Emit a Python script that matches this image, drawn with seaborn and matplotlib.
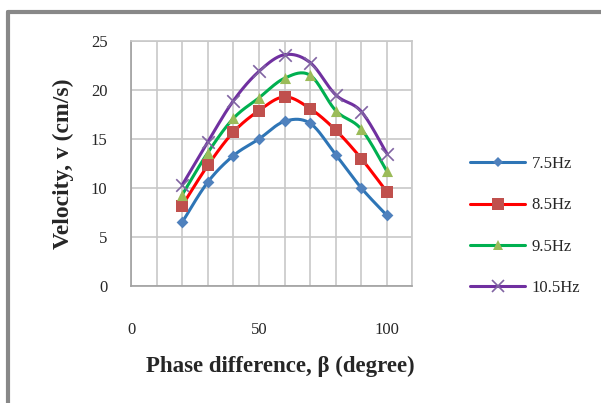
import numpy as np
import pandas as pd
import matplotlib
matplotlib.use("Agg")
import matplotlib.pyplot as plt
import seaborn as sns
from matplotlib.lines import Line2D

phase = [20, 30, 40, 50, 60, 70, 80, 90, 100]
v_75 = [6.5, 10.6, 13.3, 15.0, 16.8, 16.6, 13.4, 10.0, 7.2]
v_85 = [8.2, 12.3, 15.7, 17.9, 19.3, 18.1, 15.9, 13.0, 9.6]
v_95 = [9.3, 13.6, 17.1, 19.2, 21.2, 21.5, 17.9, 16.0, 11.7]
v_105 = [10.3, 14.7, 18.9, 21.9, 23.6, 22.8, 19.5, 17.8, 13.5]
series_names = ["7.5Hz", "8.5Hz", "9.5Hz", "10.5Hz"]
x_ticks = [0, 50, 100]
y_ticks = [0, 5, 10, 15, 20, 25]

line_colors = ["#2e75b6", "#ff0000", "#00b050", "#7030a0"]
marker_colors = ["#4f81bd", "#c0504d", "#9bbb59", "#8064a2"]
markers = ["D", "s", "^", "x"]
msizes = [6, 9, 8, 9]

sns.set_style("white")
plt.rcParams['font.family'] = ['Liberation Serif', 'DejaVu Serif']

df = pd.DataFrame({"phase": phase * 4,
                   "v": v_75 + v_85 + v_95 + v_105,
                   "series": sum([[n] * len(phase) for n in series_names], [])})

fig = plt.figure(figsize=(6.01, 4.03), dpi=100)
ax = fig.add_axes([131 / 601, 1 - 286 / 403, (412.5 - 131) / 601, (286 - 41) / 403])


def smooth(xs, ys, n=20):
    # Catmull-Rom rendering of the smoothed line (Excel style)
    xs = np.asarray(xs, float); ys = np.asarray(ys, float)
    P = np.column_stack([xs, ys])
    P = np.vstack([P[0], P, P[-1]])
    out = []
    t = np.linspace(0, 1, n)[:, None]
    for i in range(1, len(P) - 2):
        p0, p1, p2, p3 = P[i - 1], P[i], P[i + 1], P[i + 2]
        c1 = p1 + (p2 - p0) / 6
        c2 = p2 - (p3 - p1) / 6
        seg = ((1 - t) ** 3) * p1 + 3 * ((1 - t) ** 2) * t * c1 + 3 * (1 - t) * t ** 2 * c2 + t ** 3 * p2
        out.append(seg)
    out = np.vstack(out)
    return out[:, 0], out[:, 1]


handles = []
for i, name in enumerate(series_names):
    sub = df[df.series == name]
    sx, sy = smooth(sub.phase.values, sub.v.values)
    ax.plot(sx, sy, color=line_colors[i], lw=2.2, zorder=3)
    sns.scatterplot(data=sub, x="phase", y="v", marker=markers[i], s=msizes[i] ** 2,
                    color=marker_colors[i], edgecolor=marker_colors[i] if markers[i] != "x" else None,
                    linewidth=1.2 if markers[i] == "x" else 0, ax=ax, zorder=4, legend=False)
    handles.append(Line2D([0], [0], color=line_colors[i], lw=2.2, marker=markers[i],
                          markersize=msizes[i] * 0.9, markerfacecolor=marker_colors[i],
                          markeredgecolor=marker_colors[i], markeredgewidth=1.2 if markers[i] == "x" else 0))

ax.set_xlim(0, 110)
ax.set_ylim(0, 25)
ax.set_xticks(np.arange(0, 111, 10), minor=True)
ax.set_xticks(x_ticks)
ax.set_yticks(y_ticks)
ax.grid(True, which="both", axis="x", color="#c8c8c8", lw=1.2)
ax.grid(True, which="major", axis="y", color="#c8c8c8", lw=1.2)
ax.set_axisbelow(True)
for s in ax.spines.values():
    s.set_color("#c8c8c8")
    s.set_linewidth(1.2)
ax.spines["left"].set_color("#a0a0a0")
ax.spines["bottom"].set_color("#a0a0a0")
ax.tick_params(axis="both", which="both", length=0, labelsize=12)
ax.tick_params(axis="x", pad=26)
ax.tick_params(axis="y", pad=17)
ax.set_xlabel("Phase difference, β (degree)", fontsize=16.5, fontweight="bold")
ax.set_ylabel("Velocity, v (cm/s)", fontsize=17, fontweight="bold", labelpad=12)
ax.xaxis.set_label_coords((280 - 131) / 281.5, -(366 - 286) / 245, transform=ax.transAxes)
ax.xaxis.label.set_va("center")

fig.legend(handles, series_names, loc="upper left", bbox_to_anchor=(455 / 601, 1 - 141 / 403),
           frameon=False, fontsize=12, labelspacing=1.52, handlelength=3.3, handletextpad=0.4)

# outer chart-area border
fig.add_artist(Line2D([8 / 601, 1], [1 - 12 / 403, 1 - 12 / 403], transform=fig.transFigure,
                      color="#888888", lw=3))
fig.add_artist(Line2D([8 / 601, 8 / 601], [0, 1 - 12 / 403], transform=fig.transFigure,
                      color="#888888", lw=3))

fig.savefig("out.png", dpi=100, facecolor="white")
